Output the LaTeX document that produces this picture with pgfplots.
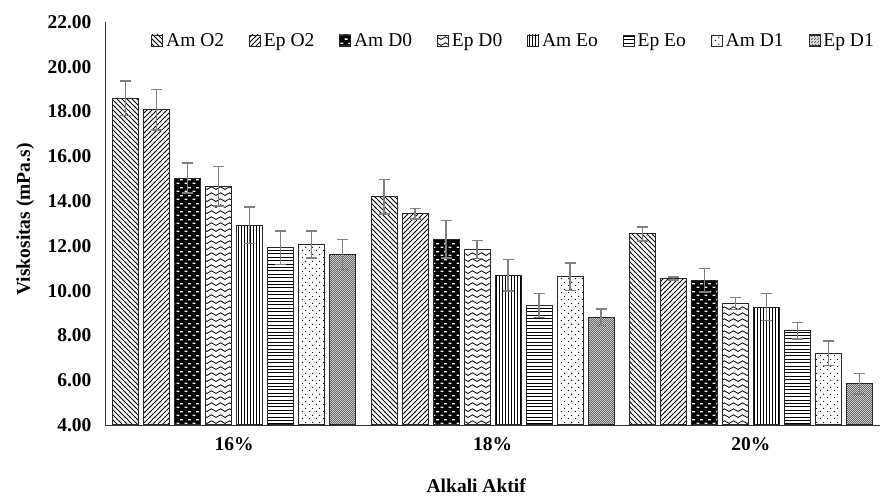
\documentclass[border=0pt]{standalone}
\usepackage{fontspec}
\setmainfont{Liberation Serif}
\usepackage{pgfplots}
\pgfplotsset{compat=1.18}
\usetikzlibrary{patterns}

\pgfdeclarepatternformonly{mynw}{\pgfqpoint{-1pt}{-1pt}}{\pgfqpoint{6pt}{6pt}}{\pgfqpoint{5pt}{5pt}}{%
  \pgfsetlinewidth{0.8pt}\pgfpathmoveto{\pgfqpoint{-0.1pt}{5.1pt}}\pgfpathlineto{\pgfqpoint{5.1pt}{-0.1pt}}\pgfusepath{stroke}}
\pgfdeclarepatternformonly{myne}{\pgfqpoint{-1pt}{-1pt}}{\pgfqpoint{6pt}{6pt}}{\pgfqpoint{5pt}{5pt}}{%
  \pgfsetlinewidth{0.8pt}\pgfpathmoveto{\pgfqpoint{-0.1pt}{-0.1pt}}\pgfpathlineto{\pgfqpoint{5.1pt}{5.1pt}}\pgfusepath{stroke}}
\pgfdeclarepatternformonly{mywaves}{\pgfqpoint{-1pt}{-1pt}}{\pgfqpoint{10pt}{7pt}}{\pgfqpoint{9pt}{6pt}}{%
  \pgfsetlinewidth{0.8pt}\pgfpathmoveto{\pgfqpoint{-0.1pt}{1.5pt}}\pgfpathlineto{\pgfqpoint{4.5pt}{4.2pt}}\pgfpathlineto{\pgfqpoint{9.1pt}{1.5pt}}\pgfusepath{stroke}}
\pgfdeclarepatternformonly{mydash}{\pgfqpoint{0pt}{0pt}}{\pgfqpoint{8pt}{8pt}}{\pgfqpoint{8pt}{8pt}}{%
  \pgfsetlinewidth{1.4pt}\pgfpathmoveto{\pgfqpoint{0.6pt}{2pt}}\pgfpathlineto{\pgfqpoint{3.8pt}{2pt}}\pgfpathmoveto{\pgfqpoint{4.6pt}{6pt}}\pgfpathlineto{\pgfqpoint{7.8pt}{6pt}}\pgfusepath{stroke}}
\pgfdeclarepatternformonly{myvlines}{\pgfqpoint{0pt}{-1pt}}{\pgfqpoint{3pt}{4pt}}{\pgfqpoint{3pt}{3pt}}{%
  \pgfsetlinewidth{0.9pt}\pgfpathmoveto{\pgfqpoint{1.5pt}{-1pt}}\pgfpathlineto{\pgfqpoint{1.5pt}{4pt}}\pgfusepath{stroke}}
\pgfdeclarepatternformonly{myhlines}{\pgfqpoint{-1pt}{0pt}}{\pgfqpoint{4.4pt}{3.4pt}}{\pgfqpoint{3.4pt}{3.4pt}}{%
  \pgfsetlinewidth{0.9pt}\pgfpathmoveto{\pgfqpoint{-1pt}{1.7pt}}\pgfpathlineto{\pgfqpoint{4.4pt}{1.7pt}}\pgfusepath{stroke}}
\pgfdeclarepatternformonly{mydots}{\pgfqpoint{0pt}{0pt}}{\pgfqpoint{7pt}{7pt}}{\pgfqpoint{7pt}{7pt}}{%
  \pgfpathcircle{\pgfqpoint{1.75pt}{1.75pt}}{0.75pt}\pgfpathcircle{\pgfqpoint{5.25pt}{5.25pt}}{0.75pt}\pgfusepath{fill}}
\pgfdeclarepatternformonly{mychecker}{\pgfqpoint{0pt}{0pt}}{\pgfqpoint{2.4pt}{2.4pt}}{\pgfqpoint{2.4pt}{2.4pt}}{%
  \pgfpathrectangle{\pgfqpoint{0pt}{0pt}}{\pgfqpoint{1.2pt}{1.2pt}}\pgfpathrectangle{\pgfqpoint{1.2pt}{1.2pt}}{\pgfqpoint{1.2pt}{1.2pt}}\pgfusepath{fill}}

\newcommand{\fnt}{\fontsize{19.5}{23}\selectfont}

\begin{document}
\begin{tikzpicture}
\useasboundingbox (-105pt,-72pt) rectangle (775pt,425pt);
\begin{axis}[
  scale only axis, width=775pt, height=403pt,
  xmin=-0.5, xmax=2.5, ymin=4, ymax=22,
  ybar=5pt, bar width=26pt,
  axis lines*=left,
  axis line style={black!80, line width=0.9pt},
  xtick={0,1,2}, xticklabels={16\%,18\%,20\%},
  ytick={4,6,...,22},
  major tick length=0pt,
  /pgf/number format/fixed, /pgf/number format/fixed zerofill, /pgf/number format/precision=2, /pgf/number format/assume math mode=true,
  yticklabel style={font=\fnt\bfseries, xshift=-10pt},
  xticklabel style={font=\fnt\bfseries, yshift=-9pt},
  ylabel={Viskositas (mPa.s)},
  xlabel={Alkali Aktif},
  ylabel style={font=\fnt\bfseries, at={(axis description cs:-0.103,0.51)}, anchor=center, rotate=0},
  xlabel style={font=\fnt\bfseries, at={(axis description cs:0.479,-0.151)}, anchor=center},
  legend columns=8,
  legend style={at={(rel axis cs:1,0.985)}, anchor=north east, draw=none, fill=none,
    font=\fnt, nodes={inner sep=3pt},
    /tikz/every even column/.append style={column sep=22pt}},
  mybar/.style={draw=black!85, line width=1pt,
    legend image code/.code={\draw[##1, line width=0.8pt] (0pt,-5.5pt) rectangle (11pt,5.5pt);},
    /pgfplots/error bars/y dir=both, /pgfplots/error bars/y explicit,
    /pgfplots/error bars/error bar style={draw=gray, line width=1.6pt},
    /pgfplots/error bars/error mark=-,
    /pgfplots/error bars/error mark options={rotate=90, draw=gray, line width=1.6pt, mark size=5.5pt}},
]
\addplot[mybar, pattern=mynw] coordinates {(0,18.60) +- (0,0.77) (1,14.19) +- (0,0.77) (2,12.54) +- (0,0.31)};
\addplot[mybar, pattern=myne] coordinates {(0,18.08) +- (0,0.90) (1,13.44) +- (0,0.23) (2,10.55) +- (0,0.07)};
\addplot[mybar, preaction={fill=black}, pattern=mydash, pattern color=white] coordinates {(0,15.03) +- (0,0.67) (1,12.29) +- (0,0.84) (2,10.47) +- (0,0.52)};
\addplot[mybar, pattern=mywaves] coordinates {(0,14.66) +- (0,0.89) (1,11.84) +- (0,0.40) (2,9.42) +- (0,0.27)};
\addplot[mybar, pattern=myvlines] coordinates {(0,12.92) +- (0,0.82) (1,10.69) +- (0,0.70) (2,9.27) +- (0,0.61)};
\addplot[mybar, pattern=myhlines] coordinates {(0,11.91) +- (0,0.75) (1,9.34) +- (0,0.53) (2,8.20) +- (0,0.37)};
\addplot[mybar, pattern=mydots] coordinates {(0,12.06) +- (0,0.60) (1,10.62) +- (0,0.61) (2,7.20) +- (0,0.54)};
\addplot[mybar, preaction={fill=gray!25}, pattern=mychecker, pattern color=black!60] coordinates {(0,11.62) +- (0,0.67) (1,8.81) +- (0,0.36) (2,5.84) +- (0,0.46)};
\legend{Am O2, Ep O2, Am D0, Ep D0, Am Eo, Ep Eo, Am D1, Ep D1}
\end{axis}
\end{tikzpicture}
\end{document}
